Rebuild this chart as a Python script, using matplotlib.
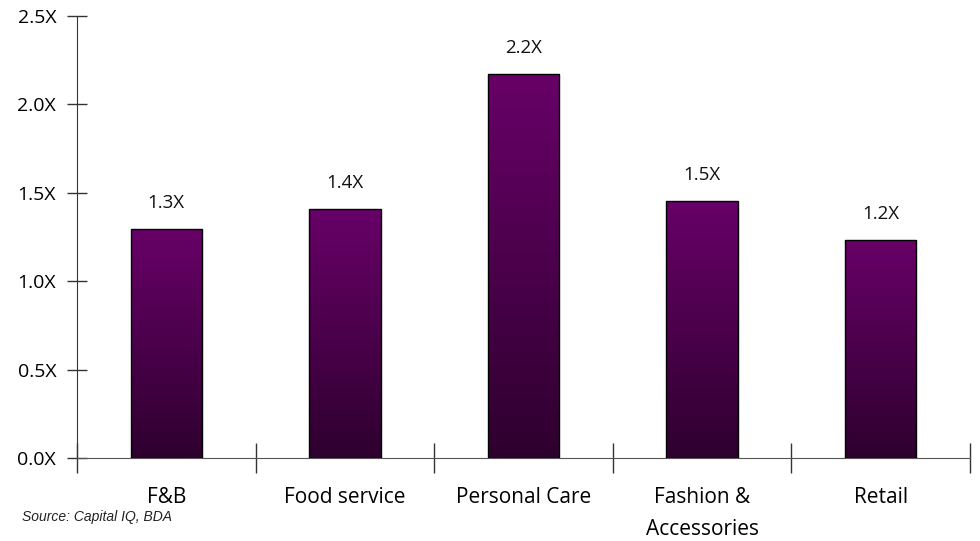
import numpy as np
import matplotlib

matplotlib.use("Agg")
import matplotlib.pyplot as plt
from matplotlib.colors import LinearSegmentedColormap

plt.rcParams.update({"font.family": "Open Sans"})

categories = ["F&B", "Food service", "Personal Care", "Fashion &\nAccessories", "Retail"]
multiples = [1.295, 1.408, 2.172, 1.454, 1.233]
y_ticks = [0.0, 0.5, 1.0, 1.5, 2.0, 2.5]
source_note = "Source: Capital IQ, BDA"

fig = plt.figure(figsize=(9.8, 5.41), dpi=100)
ax = fig.add_axes([77 / 980, 83 / 541, 893 / 980, 442 / 541])

x = np.arange(len(categories))
bars = ax.bar(x, multiples, width=0.4, color="none", edgecolor="black", lw=1.0, zorder=3)

# vertical purple gradient inside each bar
cmap = LinearSegmentedColormap.from_list("purp", ["#2e002e", "#680068"])
grad = np.linspace(0, 1, 256).reshape(-1, 1)
for b in bars:
    x0, w, h = b.get_x(), b.get_width(), b.get_height()
    im = ax.imshow(grad, extent=[x0, x0 + w, 0, h], origin="lower", cmap=cmap,
                   aspect="auto", zorder=2)
    im.set_clip_path(b)
    ax.annotate(f"{h:.1f}X", (x0 + w / 2, h), xytext=(0, 19), textcoords="offset points",
                ha="center", va="center", fontsize=13.5, color="#111111")

ax.set_xlim(-0.5, len(categories) - 0.5)
ax.set_ylim(0, 2.5)

ax.set_yticks(y_ticks)
ax.set_yticklabels([f"{t:.1f}X" for t in y_ticks], fontsize=14)
ax.tick_params(axis="y", direction="inout", length=14, width=1.0, color="#333333", pad=8)

ax.set_xticks(np.arange(len(categories) + 1) - 0.5)
ax.set_xticklabels([])
ax.tick_params(axis="x", which="major", direction="inout", length=22, width=1.0, color="#333333")
ax.set_xticks(x, minor=True)
ax.set_xticklabels(categories, minor=True, fontsize=15, linespacing=1.65, va="top")
ax.tick_params(axis="x", which="minor", length=0, pad=21)

for s in ["top", "right"]:
    ax.spines[s].set_visible(False)
ax.spines["left"].set_color("#333333")
ax.spines["bottom"].set_color("#555555")

fig.text(22 / 980, 1 - 517 / 541, source_note, fontsize=10, style="italic",
         family="Liberation Sans", va="center", color="#222222")

fig.savefig("out.png", dpi=100)
